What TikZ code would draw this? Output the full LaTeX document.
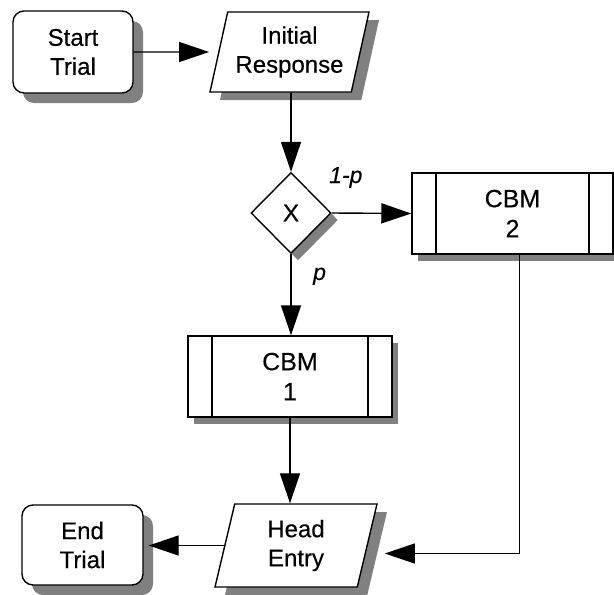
\documentclass[tikz,border=0pt]{standalone}
\usepackage{fontspec}
\setmainfont{Liberation Sans}[FakeBold=0.35]
\usetikzlibrary{shapes.geometric,shadows,arrows.meta,calc}
\definecolor{shadowgray}{HTML}{808080}
\begin{document}
\begin{tikzpicture}[x=1pt,y=-1pt,
  every node/.style={font=\fontsize{24}{29}\selectfont, align=center, text=black},
  outline/.style={draw=black, line width=1.4pt, fill=white, inner sep=0pt},
  shade/.style 2 args={drop shadow={shadow xshift=#1, shadow yshift=#2, fill=shadowgray, opacity=1}},
  terminal/.style={outline, rectangle, rounded corners=11pt, shade={10pt}{-10pt}},
  iobox/.style={outline, trapezium, trapezium stretches body, shade={10pt}{-8pt}},
  process/.style={outline, rectangle, minimum height=81pt, font=\fontsize{25}{30}\selectfont,
    shade={6pt}{-7pt},
    path picture={\draw[line width=1.4pt]
      ([xshift=24pt]path picture bounding box.north west) -- ([xshift=24pt]path picture bounding box.south west)
      ([xshift=-24pt]path picture bounding box.north east) -- ([xshift=-24pt]path picture bounding box.south east);}},
  decision/.style={outline, diamond, aspect=1, font=\fontsize{24}{28}\selectfont, shade={7pt}{-7pt}},
  conn/.style={line width=1.4pt, -{Triangle[length=30pt,width=20pt]}},
  prob/.style={font=\fontsize{23}{27}\selectfont\itshape}
]
\useasboundingbox (0,0) rectangle (614,595);

% flowchart boxes
\node[terminal, minimum width=120pt, minimum height=82pt] (start) at (73,52) {Start\\Trial};
\node[iobox, trapezium left angle=71, trapezium right angle=109,
      minimum width=159pt, minimum height=80pt] (init) at (289.5,52) {Initial\\Response};
\node[decision, minimum width=80pt, minimum height=81pt] (dec) at (291,213) {X};
\node[process, minimum width=201pt] (cbm2) at (512.5,213.5) {CBM\\2};
\node[process, minimum width=204pt] (cbm1) at (290,376.5) {CBM\\1};
\node[iobox, trapezium left angle=69, trapezium right angle=111,
      minimum width=162pt, minimum height=83pt] (he) at (296,545.5) {Head\\Entry};
\node[terminal, minimum width=121pt, minimum height=80pt] (end) at (82.5,545) {End\\Trial};

% branch probabilities
\node[prob, anchor=base west, inner sep=0pt] (lq) at (329,183) {1-p};
\node[prob, anchor=base west, inner sep=0pt] (lp) at (313,280) {p};

% connectors
\draw[conn] (start.east) -- ([xshift=-9pt]init.west);
\draw[conn] (init.south -| dec.north) -- (dec.north);
\draw[conn] (dec.east) -- (cbm2.west);
\draw[conn] (dec.south) -- (dec.south |- cbm1.north);
\draw[conn] (cbm1.south) -- (cbm1.south |- he.north);
\draw[conn] ([xshift=7pt]cbm2.south) |- ([xshift=17pt,yshift=-8pt]he.east);
\draw[conn] (he.west) -- ($(end.east |- he.west)+(5,0)$);
\end{tikzpicture}
\end{document}
